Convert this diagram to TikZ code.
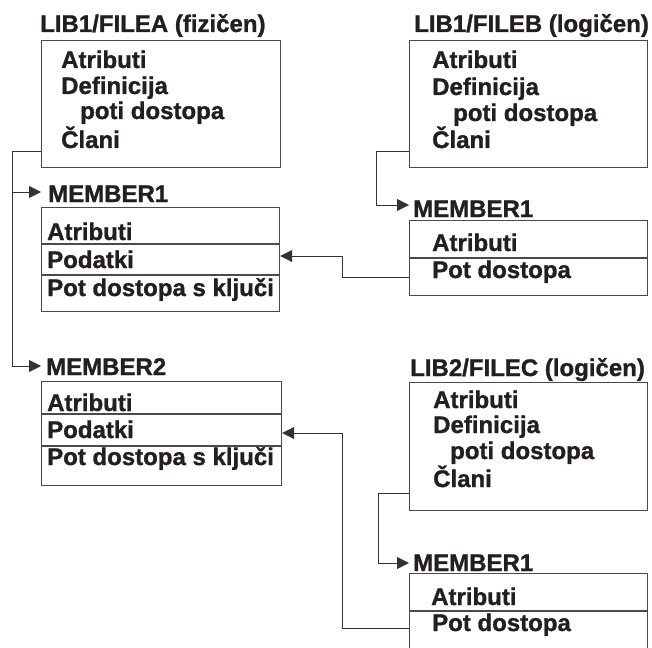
\documentclass[tikz,border=0pt]{standalone}
\usepackage{fontspec}
\setmainfont{Liberation Sans}[BoldFeatures={FakeBold=1.2}]
\usetikzlibrary{arrows.meta}
\definecolor{txtcol}{HTML}{231F20}
\definecolor{boxgray}{HTML}{4A4A4A}
\definecolor{linegray}{HTML}{333333}
\begin{document}
\begin{tikzpicture}[x=1pt,y=-1pt,
  box/.style={draw=boxgray,line width=1.2pt,inner sep=0pt,anchor=north west},
  divider/.style={draw=boxgray,line width=1.1pt},
  txt/.style={anchor=base west,inner sep=0pt,font=\bfseries\fontsize{24}{28}\selectfont,text=txtcol},
  conn/.style={draw=linegray,line width=0.9pt},
  arr/.style={conn,-{Triangle[length=12pt,width=12pt]}}]
\useasboundingbox (0,0) rectangle (652,647);
\clip (0,0) rectangle (652,647);

% boxes
\node[box,minimum width=239pt,minimum height=127pt] (fa) at (41,40) {};
\node[box,minimum width=238pt,minimum height=127pt] (fb) at (409,40) {};
\node[box,minimum width=238pt,minimum height=104pt] (ma1) at (41,207) {};
\node[box,minimum width=238pt,minimum height=75pt] (mb1) at (409,220) {};
\node[box,minimum width=240pt,minimum height=104pt] (ma2) at (41,381) {};
\node[box,minimum width=238pt,minimum height=128pt] (fc) at (409,382) {};
\node[box,minimum width=238pt,minimum height=90pt] (mc1) at (409,573) {};

% dividers
\draw[divider] ([yshift=-37pt]ma1.north west) -- ([yshift=-37pt]ma1.north east);
\draw[divider] ([yshift=-68pt]ma1.north west) -- ([yshift=-68pt]ma1.north east);
\draw[divider] ([yshift=-38pt]mb1.north west) -- ([yshift=-38pt]mb1.north east);
\draw[divider] ([yshift=-33pt]ma2.north west) -- ([yshift=-33pt]ma2.north east);
\draw[divider] ([yshift=-65pt]ma2.north west) -- ([yshift=-65pt]ma2.north east);
\draw[divider] ([yshift=-38pt]mc1.north west) -- ([yshift=-38pt]mc1.north east);

% titles
\node[txt] (tA) at (40,32) {LIB1/FILEA (fizičen)};
\node[txt] (tB) at (414,32) {LIB1/FILEB (logičen)};
\node[txt] (tC) at (410,376) {LIB2/FILEC (logičen)};
\node[txt] (tA1) at (48,202) {MEMBER1};
\node[txt] (tB1) at (413,217) {MEMBER1};
\node[txt] (tA2) at (46,375) {MEMBER2};
\node[txt] (tC1) at (413,571) {MEMBER1};

% FILEA contents
\node[txt] (a1) at (61,68) {Atributi};
\node[txt] (a2) at (61,94) {Definicija};
\node[txt] (a3) at (80,119) {poti dostopa};
\node[txt] (a4) at (61,148) {Člani};
% FILEB contents
\node[txt] (b1) at (432,68) {Atributi};
\node[txt] (b2) at (432,95) {Definicija};
\node[txt] (b3) at (453,121) {poti dostopa};
\node[txt] (b4) at (432,148) {Člani};
% FILEC contents
\node[txt] (c1) at (433,408) {Atributi};
\node[txt] (c2) at (433,433) {Definicija};
\node[txt] (c3) at (450,459) {poti dostopa};
\node[txt] (c4) at (433,487) {Člani};
% MEMBER1 (A)
\node[txt] (ma1r1) at (47,240) {Atributi};
\node[txt] (ma1r2) at (47,268) {Podatki};
\node[txt] (ma1r3) at (47,296) {Pot dostopa s ključi};
% MEMBER1 (B)
\node[txt] (mb1r1) at (432,251) {Atributi};
\node[txt] (mb1r2) at (432,278) {Pot dostopa};
% MEMBER2 (A)
\node[txt] (ma2r1) at (47,411) {Atributi};
\node[txt] (ma2r2) at (47,438) {Podatki};
\node[txt] (ma2r3) at (47,465) {Pot dostopa s ključi};
% MEMBER1 (C)
\node[txt] (mc1r1) at (431,605) {Atributi};
\node[txt] (mc1r2) at (432,631) {Pot dostopa};

% ports
\coordinate (pFA) at ([yshift=17pt]fa.south west);
\coordinate (pFB) at ([yshift=17pt]fb.south west);
\coordinate (pFC) at ([yshift=18pt]fc.south west);
\coordinate (pMA1) at ([yshift=15pt]ma1.north west);
\coordinate (pMA2) at ([yshift=15pt]ma2.north west);
\coordinate (pMB1) at ([yshift=15pt]mb1.north west);
\coordinate (pMC1) at ([yshift=10pt]mc1.north west);
\coordinate (pMB1out) at ([yshift=19pt]mb1.south west);
\coordinate (pMC1out) at ([yshift=-55pt]mc1.north west);
\coordinate (pMA1in) at ([yshift=-49pt]ma1.north east);
\coordinate (pMA2in) at ([yshift=-52pt]ma2.north east);
% bends
\coordinate (spA) at (12,0);
\coordinate (spB) at (376,0);
\coordinate (spC) at (378,0);
\coordinate (spX) at (342,0);

% connectors
\draw[arr] (pFA) -- (pFA -| spA) |- (pMA2);
\draw[arr] (pMA1 -| spA) -- (pMA1);
\draw[arr] (pFB) -- (pFB -| spB) |- (pMB1);
\draw[arr] (pFC) -- (pFC -| spC) |- (pMC1);
\draw[arr] (pMB1out) -- (pMB1out -| spX) |- (pMA1in);
\draw[arr] (pMC1out) -- (pMC1out -| spX) |- (pMA2in);
\end{tikzpicture}
\end{document}
